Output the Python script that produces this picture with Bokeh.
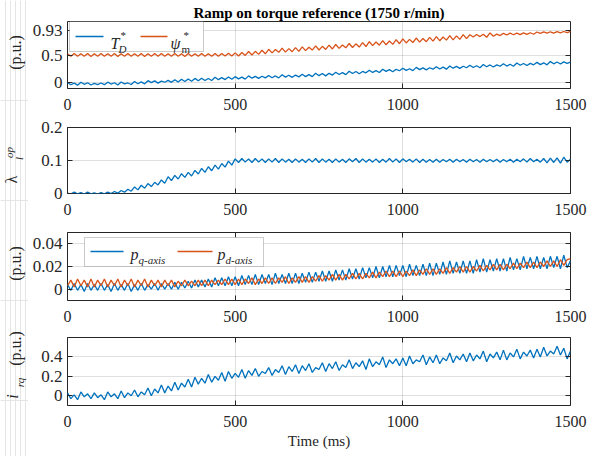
import math
from bokeh.plotting import figure
from bokeh.layouts import column, row
from bokeh.models import (FixedTicker, CustomJSTickFormatter, LinearAxis, Label,
                          BoxAnnotation, Range1d)
from bokeh.embed import file_html
from bokeh.resources import INLINE

# ---------------- data ----------------
time_ms = list(range(0, 1501, 10))

torque_ref = [
    0.007, -0.033, -0.003, -0.040, 0.013, -0.025, 0.003, -0.037, -0.007, -0.030,
    -0.002, -0.032, 0.013, -0.020, 0.003, -0.038, 0.017, -0.018, -0.001, -0.028,
    0.025, -0.015, 0.018, -0.016, 0.040, 0.005, 0.036, -0.004, 0.032, 0.012,
    0.045, 0.010, 0.058, 0.016, 0.066, 0.025, 0.070, 0.030, 0.081, 0.038,
    0.084, 0.043, 0.080, 0.044, 0.100, 0.058, 0.094, 0.060, 0.106, 0.066,
    0.112, 0.072, 0.104, 0.068, 0.126, 0.085, 0.118, 0.082, 0.120, 0.090,
    0.134, 0.092, 0.125, 0.090, 0.145, 0.104, 0.138, 0.100, 0.140, 0.108,
    0.154, 0.113, 0.148, 0.112, 0.172, 0.130, 0.168, 0.126, 0.172, 0.140,
    0.190, 0.150, 0.184, 0.148, 0.210, 0.168, 0.204, 0.165, 0.206, 0.180,
    0.228, 0.188, 0.220, 0.186, 0.246, 0.206, 0.238, 0.200, 0.244, 0.218,
    0.262, 0.224, 0.254, 0.220, 0.278, 0.238, 0.270, 0.234, 0.272, 0.246,
    0.290, 0.250, 0.282, 0.246, 0.304, 0.264, 0.296, 0.260, 0.298, 0.272,
    0.316, 0.276, 0.308, 0.272, 0.330, 0.290, 0.322, 0.286, 0.324, 0.298,
    0.342, 0.302, 0.334, 0.298, 0.356, 0.316, 0.348, 0.312, 0.350, 0.324,
    0.368, 0.328, 0.360, 0.324, 0.382, 0.342, 0.374, 0.338, 0.376, 0.350,
    0.372,
]

flux_ref = [
    0.524, 0.478, 0.526, 0.476, 0.523, 0.479, 0.527, 0.475, 0.524, 0.477,
    0.525, 0.476, 0.523, 0.478, 0.526, 0.475, 0.524, 0.479, 0.527, 0.476,
    0.523, 0.477, 0.526, 0.475, 0.524, 0.478, 0.525, 0.476, 0.527, 0.479,
    0.524, 0.476, 0.525, 0.478, 0.523, 0.475, 0.526, 0.477, 0.524, 0.476,
    0.527, 0.478, 0.524, 0.476, 0.528, 0.479, 0.526, 0.481, 0.530, 0.483,
    0.538, 0.482, 0.545, 0.492, 0.562, 0.500, 0.566, 0.511, 0.585, 0.522,
    0.602, 0.538, 0.598, 0.548, 0.622, 0.552, 0.614, 0.560, 0.632, 0.566,
    0.645, 0.578, 0.640, 0.588, 0.662, 0.590, 0.655, 0.600, 0.676, 0.608,
    0.688, 0.618, 0.680, 0.628, 0.706, 0.634, 0.700, 0.642, 0.722, 0.652,
    0.738, 0.668, 0.732, 0.676, 0.758, 0.684, 0.750, 0.690, 0.776, 0.702,
    0.788, 0.716, 0.780, 0.724, 0.804, 0.730, 0.796, 0.738, 0.816, 0.748,
    0.828, 0.756, 0.822, 0.766, 0.848, 0.772, 0.842, 0.780, 0.866, 0.792,
    0.862, 0.822, 0.866, 0.830, 0.872, 0.818, 0.895, 0.836, 0.874, 0.848,
    0.888, 0.858, 0.891, 0.862, 0.893, 0.866, 0.896, 0.869, 0.899, 0.872,
    0.912, 0.888, 0.914, 0.891, 0.916, 0.893, 0.919, 0.896, 0.921, 0.899,
    0.922,
]

lambda_op = [
    0.001, -0.002, 0.004, -0.001, 0.003, -0.002, 0.004, -0.001, 0.002, -0.002,
    0.003, -0.001, 0.004, 0.000, 0.006, 0.001, 0.009, 0.004, 0.013, 0.007,
    0.020, 0.011, 0.025, 0.016, 0.030, 0.021, 0.034, 0.026, 0.041, 0.031,
    0.051, 0.039, 0.055, 0.044, 0.060, 0.049, 0.064, 0.053, 0.070, 0.059,
    0.076, 0.064, 0.081, 0.069, 0.086, 0.074, 0.091, 0.080, 0.098, 0.086,
    0.105, 0.094, 0.106, 0.095, 0.105, 0.094, 0.106, 0.095, 0.105, 0.094,
    0.105, 0.095, 0.106, 0.094, 0.105, 0.095, 0.104, 0.094, 0.105, 0.095,
    0.104, 0.094, 0.105, 0.095, 0.106, 0.094, 0.105, 0.095, 0.104, 0.094,
    0.105, 0.095, 0.104, 0.094, 0.105, 0.096, 0.106, 0.094, 0.105, 0.095,
    0.104, 0.095, 0.105, 0.094, 0.104, 0.095, 0.106, 0.095, 0.105, 0.094,
    0.105, 0.096, 0.104, 0.095, 0.105, 0.094, 0.104, 0.095, 0.103, 0.095,
    0.104, 0.095, 0.103, 0.096, 0.104, 0.095, 0.104, 0.096, 0.103, 0.095,
    0.104, 0.096, 0.103, 0.095, 0.104, 0.096, 0.103, 0.096, 0.104, 0.095,
    0.103, 0.096, 0.104, 0.095, 0.104, 0.096, 0.105, 0.095, 0.106, 0.096,
    0.104, 0.095, 0.106, 0.093, 0.107, 0.094, 0.108, 0.092, 0.110, 0.095,
    0.104,
]

p_q_axis = [
    0.004, -0.001, 0.005, -0.001, 0.004, -0.002, 0.005, -0.001, 0.004, -0.001,
    0.005, -0.001, 0.004, -0.002, 0.005, -0.001, 0.004, -0.001, 0.005, -0.002,
    0.004, -0.001, 0.005, -0.001, 0.004, 0.000, 0.005, -0.001, 0.005, 0.000,
    0.005, 0.000, 0.006, 0.000, 0.006, 0.001, 0.007, 0.001, 0.008, 0.002,
    0.008, 0.002, 0.009, 0.002, 0.010, 0.003, 0.010, 0.003, 0.011, 0.003,
    0.011, 0.003, 0.012, 0.004, 0.012, 0.004, 0.013, 0.004, 0.013, 0.005,
    0.013, 0.004, 0.014, 0.005, 0.013, 0.005, 0.014, 0.005, 0.014, 0.005,
    0.014, 0.006, 0.015, 0.006, 0.015, 0.007, 0.016, 0.007, 0.016, 0.007,
    0.017, 0.008, 0.017, 0.008, 0.018, 0.009, 0.018, 0.009, 0.019, 0.010,
    0.019, 0.010, 0.020, 0.010, 0.020, 0.011, 0.021, 0.011, 0.021, 0.012,
    0.021, 0.011, 0.022, 0.012, 0.021, 0.012, 0.022, 0.012, 0.023, 0.012,
    0.023, 0.013, 0.024, 0.013, 0.025, 0.014, 0.024, 0.014, 0.025, 0.014,
    0.025, 0.014, 0.026, 0.015, 0.027, 0.015, 0.026, 0.016, 0.027, 0.016,
    0.027, 0.016, 0.028, 0.017, 0.027, 0.017, 0.029, 0.018, 0.028, 0.018,
    0.029, 0.018, 0.028, 0.018, 0.029, 0.019, 0.029, 0.018, 0.030, 0.019,
    0.025,
]

p_d_axis = [
    0.003, 0.008, 0.002, 0.009, 0.003, 0.008, 0.002, 0.009, 0.002, 0.008,
    0.003, 0.009, 0.002, 0.008, 0.003, 0.009, 0.002, 0.008, 0.003, 0.009,
    0.002, 0.008, 0.003, 0.009, 0.002, 0.008, 0.003, 0.008, 0.002, 0.008,
    0.003, 0.008, 0.002, 0.007, 0.003, 0.008, 0.003, 0.007, 0.003, 0.008,
    0.003, 0.008, 0.003, 0.008, 0.004, 0.008, 0.004, 0.009, 0.004, 0.009,
    0.004, 0.009, 0.004, 0.009, 0.005, 0.010, 0.004, 0.009, 0.005, 0.010,
    0.005, 0.010, 0.005, 0.010, 0.006, 0.011, 0.005, 0.010, 0.006, 0.011,
    0.006, 0.011, 0.006, 0.011, 0.007, 0.012, 0.007, 0.012, 0.008, 0.013,
    0.008, 0.013, 0.008, 0.013, 0.009, 0.014, 0.009, 0.014, 0.009, 0.014,
    0.010, 0.015, 0.010, 0.015, 0.011, 0.016, 0.011, 0.016, 0.011, 0.016,
    0.011, 0.016, 0.012, 0.017, 0.012, 0.017, 0.013, 0.018, 0.013, 0.018,
    0.013, 0.018, 0.014, 0.019, 0.014, 0.019, 0.015, 0.020, 0.015, 0.020,
    0.015, 0.020, 0.016, 0.021, 0.016, 0.021, 0.017, 0.022, 0.017, 0.022,
    0.017, 0.022, 0.018, 0.023, 0.018, 0.023, 0.019, 0.024, 0.019, 0.024,
    0.019, 0.024, 0.020, 0.025, 0.020, 0.025, 0.020, 0.026, 0.021, 0.026,
    0.027,
]

i_rq = [
    0.03, -0.03, 0.01, -0.04, 0.04, -0.01, 0.02, -0.03, 0.03, -0.02,
    0.01, -0.04, 0.04, -0.01, 0.02, -0.03, 0.05, -0.02, 0.03, 0.00,
    0.06, -0.01, 0.04, 0.01, 0.08, 0.00, 0.07, 0.03, 0.11, 0.03,
    0.10, 0.05, 0.14, 0.06, 0.13, 0.09, 0.17, 0.09, 0.19, 0.12,
    0.18, 0.13, 0.22, 0.14, 0.20, 0.16, 0.24, 0.15, 0.25, 0.18,
    0.23, 0.19, 0.27, 0.18, 0.26, 0.21, 0.28, 0.20, 0.25, 0.23,
    0.29, 0.21, 0.27, 0.24, 0.31, 0.22, 0.30, 0.25, 0.32, 0.23,
    0.31, 0.26, 0.33, 0.24, 0.29, 0.27, 0.34, 0.25, 0.33, 0.28,
    0.35, 0.26, 0.32, 0.29, 0.37, 0.28, 0.34, 0.30, 0.36, 0.27,
    0.38, 0.30, 0.35, 0.32, 0.40, 0.29, 0.37, 0.33, 0.38, 0.31,
    0.39, 0.31, 0.41, 0.33, 0.37, 0.35, 0.42, 0.32, 0.40, 0.34,
    0.42, 0.33, 0.39, 0.36, 0.44, 0.34, 0.41, 0.37, 0.43, 0.35,
    0.44, 0.36, 0.42, 0.38, 0.46, 0.35, 0.43, 0.39, 0.45, 0.37,
    0.47, 0.37, 0.44, 0.40, 0.48, 0.38, 0.45, 0.41, 0.47, 0.39,
    0.48, 0.40, 0.50, 0.41, 0.46, 0.43, 0.51, 0.42, 0.49, 0.38,
    0.46,
]

x_ticks = [0, 500, 1000, 1500]
y_ticks_1 = [0, 0.5, 0.93]
y_ticks_2 = [0, 0.1, 0.2]
y_ticks_3 = [0, 0.02, 0.04]
y_ticks_4 = [0, 0.2, 0.4]

title_text = "Ramp on torque reference (1750 r/min)"
xlabel_text = "Time (ms)"

# ---------------- style ----------------
BLUE = "#0072BD"
ORANGE = "#D95319"
TXT = "#262626"
FONT = "Liberation Serif"
LW = 1.3
XTICK_FONT_SIZE = "16px"
YTICK_FONT_SIZE = "17px"

PAGE_H = 456
LAB_W = 28                 # strip on the left holding the rotated y labels
FRAME_L, FRAME_W = 67, 503
X_MAX = 1500
XTICK_STANDOFF = 10
# (frame top px, frame bottom px, ymin, ymax) in page pixels
P1 = (21, 88, -0.1, 1.1)
P2 = (127, 193, 0.0, 0.2)
P3 = (232, 300, -0.01, 0.05)
P4 = (337, 405, -0.1, 0.6)


def px_x(px):
    return (px - FRAME_L) / FRAME_W * X_MAX


def px_y(panel, py):
    top, bot, ymin, ymax = panel
    return ymax - (py - top) / (bot - top) * (ymax - ymin)


def style_axis(ax, ticks, show_labels=True, standoff=6, size="16px"):
    ax.ticker = FixedTicker(ticks=ticks)
    ax.major_tick_in = 5
    ax.major_tick_out = 0
    ax.minor_tick_line_color = None
    ax.axis_line_color = None
    ax.major_tick_line_color = TXT
    ax.major_tick_line_width = 1
    ax.major_label_text_font = FONT
    ax.major_label_text_color = TXT
    if show_labels:
        ax.major_label_overrides = {t: ("%g" % t) for t in ticks}
        ax.major_label_text_font_size = size
        ax.major_label_standoff = standoff
    else:
        ax.formatter = CustomJSTickFormatter(code="return ''")
        ax.major_label_text_font_size = "1px"
        ax.major_label_standoff = 0


def make_fig(panel, yticks, top_b, bot_b, top_axis=True):
    top, bot, ymin, ymax = panel
    p = figure(frame_width=FRAME_W, frame_height=bot - top,
               x_range=Range1d(0, X_MAX), y_range=Range1d(ymin, ymax),
               output_backend="svg", toolbar_location=None,
               min_border_left=FRAME_L - LAB_W, min_border_right=20,
               min_border_top=top_b, min_border_bottom=bot_b)
    p.background_fill_color = "white"
    p.border_fill_color = "white"
    p.outline_line_color = TXT
    p.outline_line_width = 1
    xb = p.below[0]
    style_axis(xb, x_ticks, True, XTICK_STANDOFF, XTICK_FONT_SIZE)
    style_axis(p.left[0], yticks, True, 5, YTICK_FONT_SIZE)
    p.xgrid.ticker = FixedTicker(ticks=x_ticks)
    p.ygrid.ticker = FixedTicker(ticks=yticks)
    for g in (p.xgrid[0], p.ygrid[0]):
        g.grid_line_color = TXT
        g.grid_line_alpha = 0.15
    r = LinearAxis()
    style_axis(r, yticks, False)
    p.add_layout(r, "right")
    if top_axis:
        a = LinearAxis()
        style_axis(a, x_ticks, False)
        p.add_layout(a, "above")
    return p, xb


def txt(p, x, y, text, size="16px", style="normal", angle=0.0,
        align="left", baseline="alphabetic", color=TXT):
    p.add_layout(Label(x=x, y=y, text=text, text_font=FONT, text_font_size=size,
                       text_font_style=style, text_color=color, angle=angle,
                       text_align=align, text_baseline=baseline))


def legend_box(p, panel, l, t, r, b):
    p.add_layout(BoxAnnotation(left=px_x(l), right=px_x(r), top=px_y(panel, t),
                               bottom=px_y(panel, b), fill_color="white", fill_alpha=1.0,
                               line_color=TXT, line_width=0.8))


def legend_line(p, panel, x0, x1, y, color):
    p.add_layout(BoxAnnotation(left=px_x(x0), right=px_x(x1), top=px_y(panel, y - 0.65),
                               bottom=px_y(panel, y + 0.65), fill_color=color, fill_alpha=1.0,
                               line_color=None))


# ---------------- left strip with the rotated y-axis labels ----------------
lab = figure(frame_width=LAB_W, frame_height=PAGE_H, x_range=Range1d(0, LAB_W),
             y_range=Range1d(PAGE_H, 0), output_backend="svg", toolbar_location=None,
             min_border=0, x_axis_location=None, y_axis_location=None)
lab.outline_line_color = None
lab.background_fill_color = "white"
lab.border_fill_color = "white"
ROT = math.pi / 2


def side_txt(px, py, text, size="16px", style="normal"):
    lab.add_layout(Label(x=px, y=py, text=text, text_font=FONT, text_font_size=size,
                         text_font_style=style, text_color=TXT, angle=ROT,
                         text_align="center", text_baseline="middle"))


side_txt(15, 52, "(p.u.)")
side_txt(11, 179, "λ")
side_txt(8.5, 152, "op", size="11px", style="italic")
side_txt(18, 158, "l", size="11px", style="italic")
side_txt(15, 263, "(p.u.)")
side_txt(15, 348, "(p.u.)")
side_txt(12, 396, "i", style="italic")
side_txt(19.5, 382, "rq", size="11px", style="italic")

# ---------------- panel 1 ----------------
p1, _ = make_fig(P1, y_ticks_1, 21, 28, top_axis=False)
p1.title.text = title_text
p1.title.align = "center"
p1.title.text_font = FONT
p1.title.text_font_size = "15px"
p1.title.text_font_style = "bold"
p1.title.text_color = "black"
p1.title.standoff = 2
p1.line(time_ms, torque_ref, color=BLUE, line_width=LW)
p1.line(time_ms, flux_ref, color=ORANGE, line_width=LW)
legend_box(p1, P1, 69, 21, 203, 51)
legend_line(p1, P1, 75, 103, 36, BLUE)
txt(p1, px_x(110), px_y(P1, 43), "T", style="italic")
txt(p1, px_x(118), px_y(P1, 48), "D", size="11px", style="italic")
txt(p1, px_x(120), px_y(P1, 34), "*", size="11px")
legend_line(p1, P1, 140, 167, 36, ORANGE)
txt(p1, px_x(170), px_y(P1, 43), "ψ", style="italic")
txt(p1, px_x(181), px_y(P1, 48), "m", size="11px")
txt(p1, px_x(183), px_y(P1, 34), "*", size="11px")

# ---------------- panel 2 ----------------
p2, _ = make_fig(P2, y_ticks_2, 11, 28)
p2.line(time_ms, lambda_op, color=BLUE, line_width=LW)

# ---------------- panel 3 ----------------
p3, _ = make_fig(P3, y_ticks_3, 11, 28)
p3.line(time_ms, p_q_axis, color=BLUE, line_width=LW)
p3.line(time_ms, p_d_axis, color=ORANGE, line_width=LW)
legend_box(p3, P3, 84, 237, 263, 266)
legend_line(p3, P3, 90, 123, 251, BLUE)
txt(p3, px_x(130), px_y(P3, 254), "p", style="italic")
txt(p3, px_x(138), px_y(P3, 259), "q-axis", size="11px", style="italic")
legend_line(p3, P3, 177, 212, 251, ORANGE)
txt(p3, px_x(217), px_y(P3, 254), "p", style="italic")
txt(p3, px_x(225), px_y(P3, 259), "d-axis", size="11px", style="italic")

# ---------------- panel 4 ----------------
p4, xb4 = make_fig(P4, y_ticks_4, 9, 51)
p4.line(time_ms, i_rq, color=BLUE, line_width=LW)
xb4.axis_label = xlabel_text
xb4.axis_label_text_font = FONT
xb4.axis_label_text_font_size = "15px"
xb4.axis_label_text_font_style = "normal"
xb4.axis_label_text_color = TXT
xb4.axis_label_standoff = 3

layout = row(lab, column(p1, p2, p3, p4, spacing=0), spacing=0)
open("out.html", "w").write(file_html(layout, INLINE))
